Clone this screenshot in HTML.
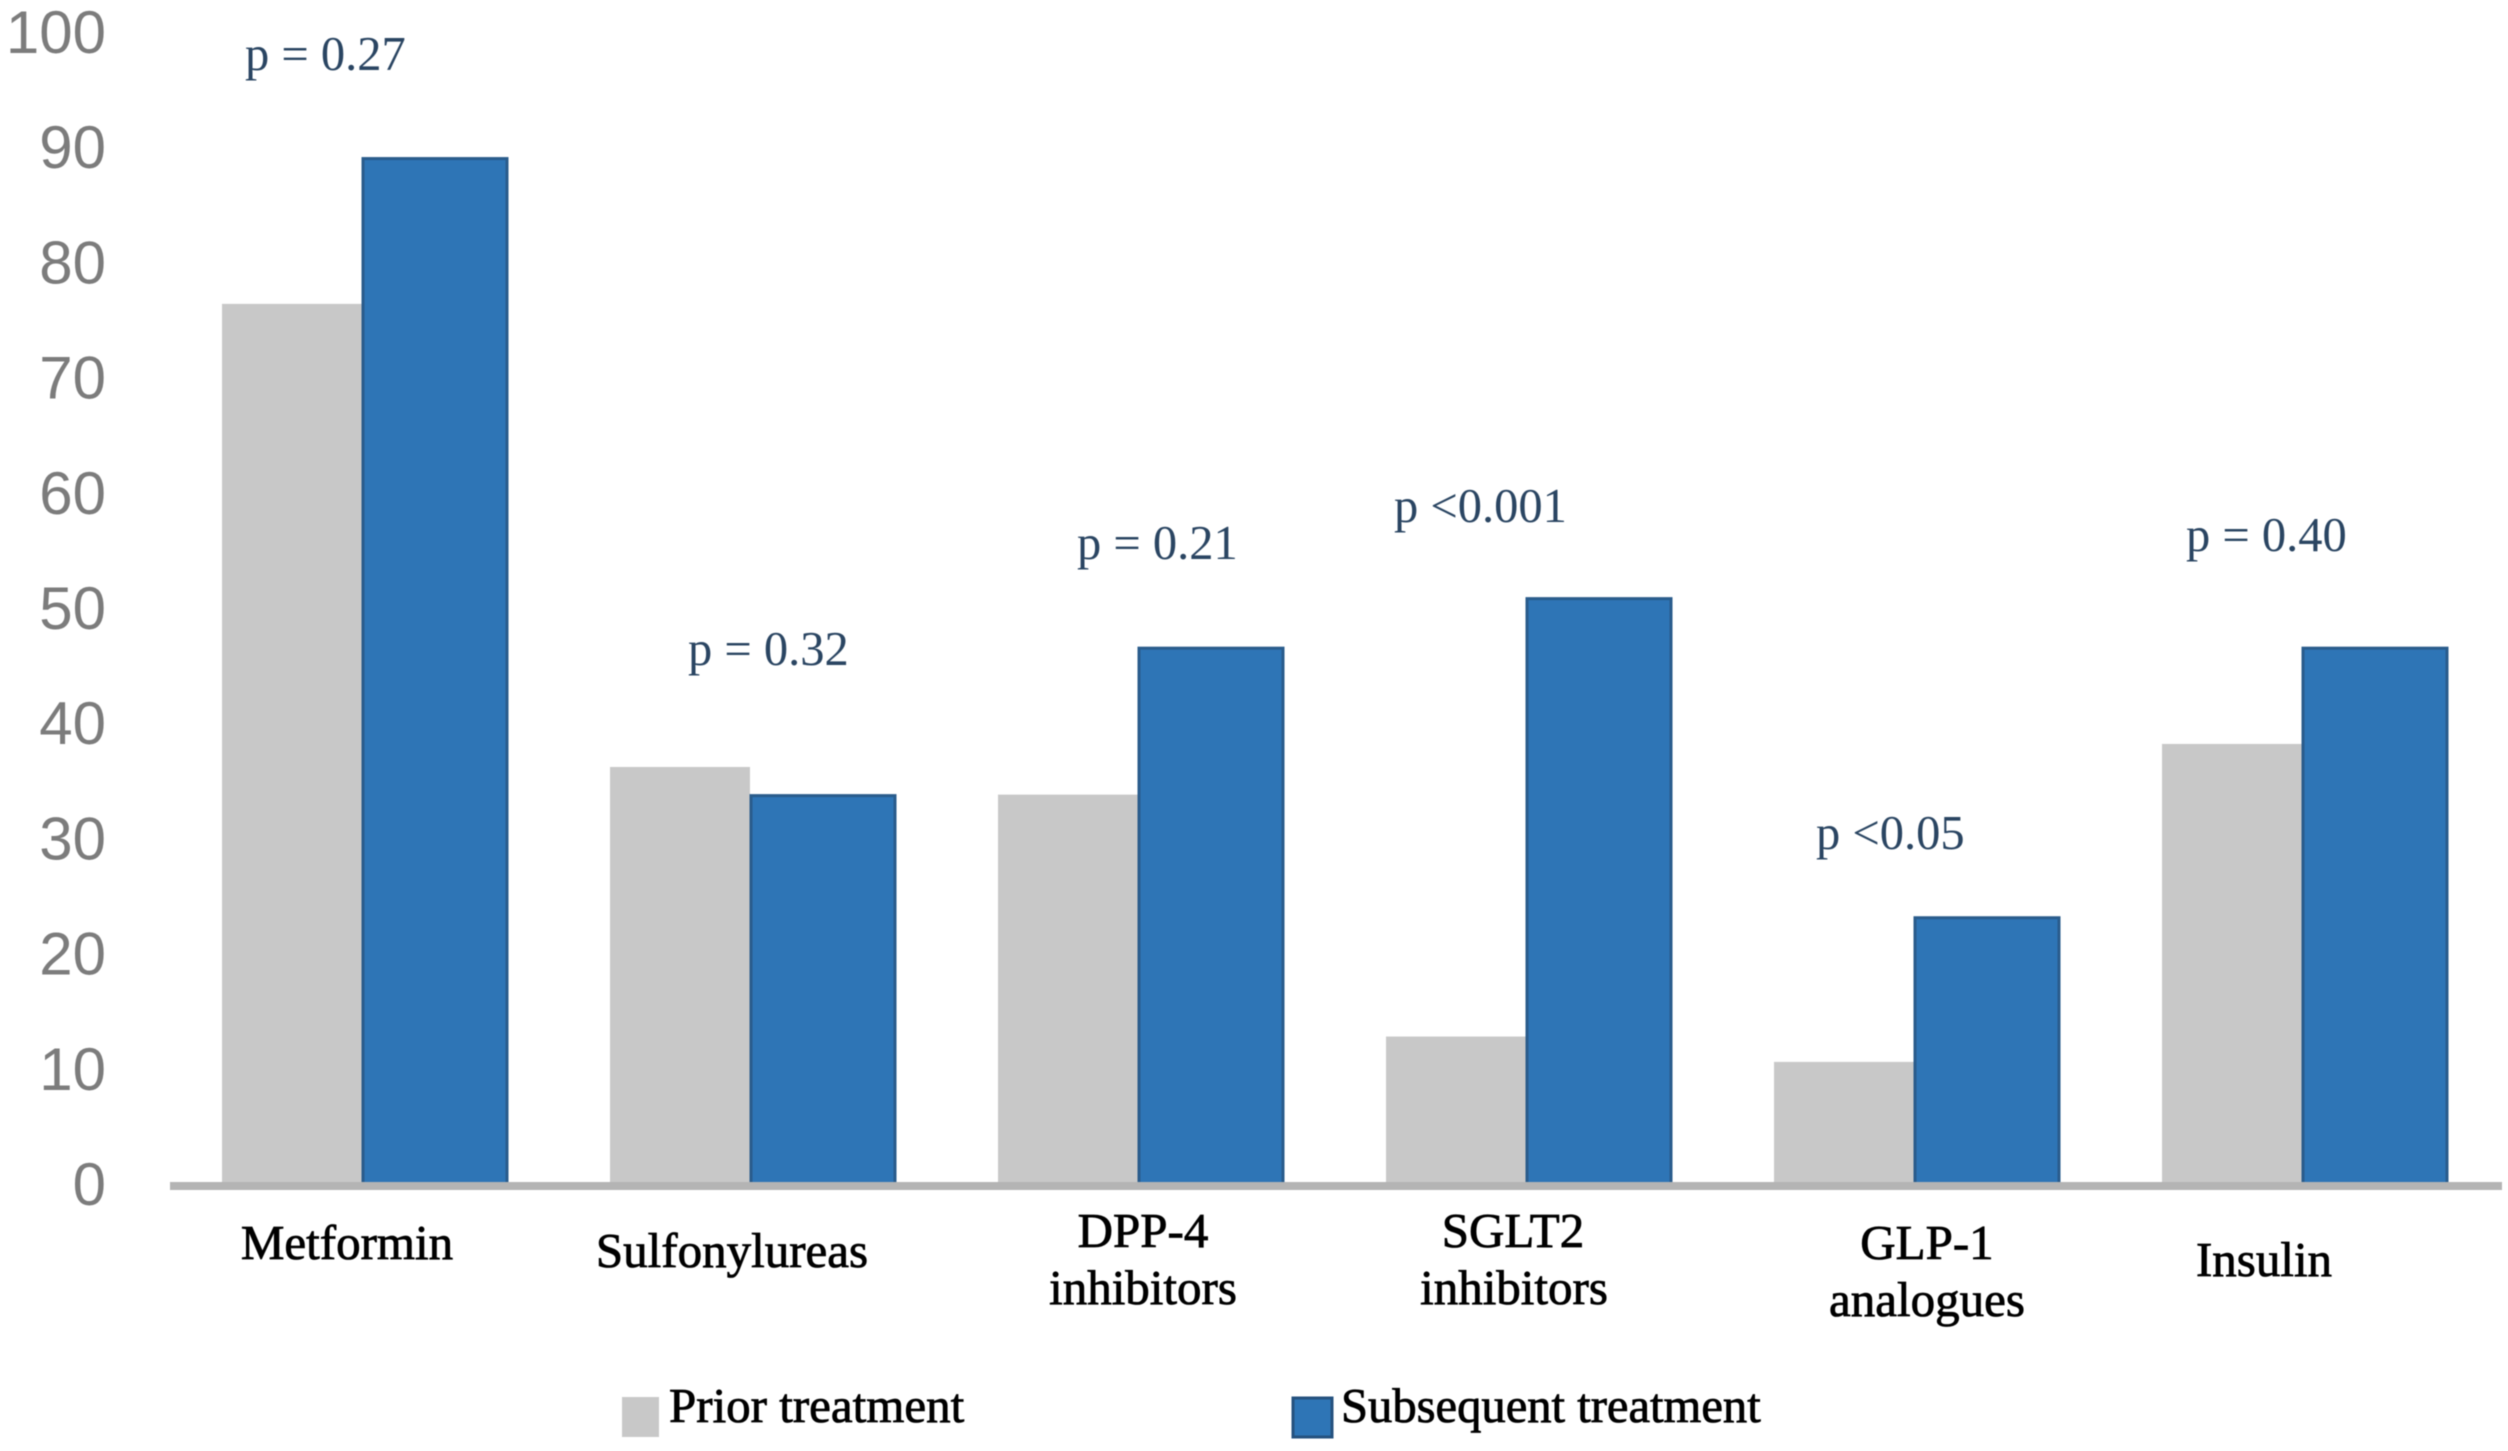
<!DOCTYPE html>
<html lang="en">
<head>
<meta charset="utf-8">
<title>Prior and subsequent treatment by drug class</title>
<style>
html,body{margin:0;padding:0;background:#fff;width:2508px;height:1451px;overflow:hidden}
svg{display:block;filter:blur(.6px)}
.tick{font-family:"Liberation Sans",sans-serif;font-size:60px;fill:#7c7c7c}
.pval{font-family:"Liberation Serif",serif;font-size:48.5px;fill:#2a4562}
.cat{font-family:"Liberation Serif",serif;font-size:49px;fill:#000;stroke:#000;stroke-width:.8px}
</style>
</head>
<body>
<svg id="chart" xmlns="http://www.w3.org/2000/svg" width="2508" height="1451" viewBox="0 0 2508 1451">
  <rect x="0" y="0" width="2508" height="1451" fill="#fff"/>
  <g id="ticks"></g>
  <g id="bars"></g>
  <rect x="170" y="1182" width="2332" height="8" fill="#b4b4b4"/>

  <g>
    <text class="cat" x="347" y="1259" text-anchor="middle">Metformin</text>
    <text class="cat" x="732" y="1267" text-anchor="middle">Sulfonylureas</text>
    <text class="cat" x="1143" y="1247" text-anchor="middle">DPP-4</text>
    <text class="cat" x="1143" y="1304" text-anchor="middle">inhibitors</text>
    <text class="cat" x="1513" y="1247" text-anchor="middle">SGLT2</text>
    <text class="cat" x="1514" y="1304" text-anchor="middle">inhibitors</text>
    <text class="cat" x="1927" y="1259" text-anchor="middle">GLP-1</text>
    <text class="cat" x="1927" y="1316" text-anchor="middle">analogues</text>
    <text class="cat" x="2264" y="1276" text-anchor="middle">Insulin</text>
  </g>

  <g>
    <text class="pval" x="245" y="70">p = 0.27</text>
    <text class="pval" x="688" y="665">p = 0.32</text>
    <text class="pval" x="1077" y="559">p = 0.21</text>
    <text class="pval" x="1394" y="522">p &lt;0.001</text>
    <text class="pval" x="1816" y="849">p &lt;0.05</text>
    <text class="pval" x="2186" y="551">p = 0.40</text>
  </g>

  <g>
    <rect x="622" y="1397" width="37" height="40" fill="#c8c8c8"/>
    <text class="cat" x="669" y="1422">Prior treatment</text>
    <rect x="1293" y="1398" width="39" height="39" fill="#2e75b6" stroke="#25527f" stroke-width="3"/>
    <text class="cat" x="1341" y="1422" style="font-size:48.6px">Subsequent treatment</text>
  </g>
</svg>

<script>
const categories = ["Metformin", "Sulfonylureas", "DPP-4 inhibitors", "SGLT2 inhibitors", "GLP-1 analogues", "Insulin"];
const priorTreatment = [76.4, 36.2, 33.8, 12.8, 10.6, 38.2];
const subsequentTreatment = [89.1, 33.8, 46.6, 50.9, 23.2, 46.6];
const tickValues = [0, 10, 20, 30, 40, 50, 60, 70, 80, 90, 100];

const NS = "http://www.w3.org/2000/svg";
const baseY = 1184;
const pxPerUnit = 11.52;
const firstGroupX = 222;
const groupStep = 388;
const priorWidth = 140;
const subsequentWidth = 146;

function yScale(v) { return baseY - v * pxPerUnit; }
function xScale(i) { return firstGroupX + i * groupStep; }

const ticksGroup = document.getElementById("ticks");
tickValues.forEach(function (t) {
  const label = document.createElementNS(NS, "text");
  label.setAttribute("class", "tick");
  label.setAttribute("x", 106);
  label.setAttribute("y", yScale(t) + 21);
  label.setAttribute("text-anchor", "end");
  
  
  label.textContent = t;
  ticksGroup.appendChild(label);
});

const barsGroup = document.getElementById("bars");
categories.forEach(function (c, i) {
  const x = xScale(i);

  const prior = document.createElementNS(NS, "rect");
  prior.setAttribute("x", x);
  prior.setAttribute("y", yScale(priorTreatment[i]));
  prior.setAttribute("width", priorWidth);
  prior.setAttribute("height", baseY - yScale(priorTreatment[i]));
  prior.setAttribute("fill", "#c8c8c8");
  
  
  barsGroup.appendChild(prior);

  const sub = document.createElementNS(NS, "rect");
  sub.setAttribute("x", x + priorWidth + 1);
  sub.setAttribute("y", yScale(subsequentTreatment[i]) + 1);
  sub.setAttribute("width", subsequentWidth - 2);
  sub.setAttribute("height", baseY - yScale(subsequentTreatment[i]) - 1);
  sub.setAttribute("fill", "#2e75b6");
  sub.setAttribute("stroke", "#2a5c8c");
  sub.setAttribute("stroke-width", "3");
  
  
  barsGroup.appendChild(sub);
});
</script>
</body>
</html>
